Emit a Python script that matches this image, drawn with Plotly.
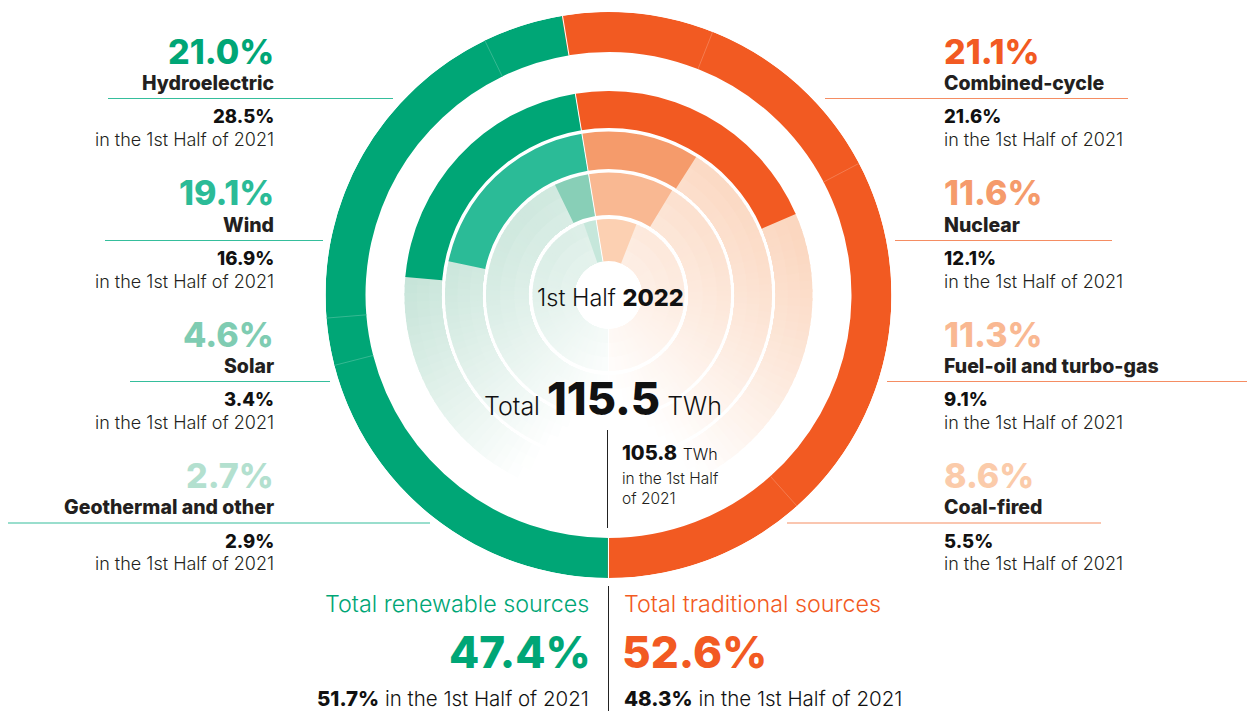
import numpy as np
import plotly.graph_objects as go

# ---------------- data ----------------
renew_names = ["Hydroelectric", "Wind", "Solar", "Geothermal and other"]
renew_2022 = [21.0, 19.1, 4.6, 2.7]
renew_2021 = [28.5, 16.9, 3.4, 2.9]
trad_names = ["Combined-cycle", "Nuclear", "Fuel-oil and turbo-gas", "Coal-fired"]
trad_2022 = [21.1, 11.6, 11.3, 8.6]
trad_2021 = [21.6, 12.1, 9.1, 5.5]
renew_total = [47.4, 51.7]   # 2022, 2021
trad_total = [52.6, 48.3]
total_twh = [115.5, 105.8]
period_now = "1st Half 2022"
period_prev = "in the 1st Half of 2021"

# order of the segments in the outer ring (from the top split outwards)
renew_outer_order = ["Solar", "Wind", "Geothermal and other", "Hydroelectric"]
trad_outer_order = ["Coal-fired", "Fuel-oil and turbo-gas", "Combined-cycle", "Nuclear"]

# ---------------- style ----------------
W, H = 1252, 711
CX, CY, R = 608.5, 295.0, 283.0
renew_colors = ["#00A676", "#2BBB97", "#88CFB7", "#C6E7DB"]
trad_colors = ["#F25A22", "#F59B6B", "#F9B892", "#FCD0B2"]
renew_label_colors = ["#00A676", "#2BBB97", "#7FCCB2", "#B3E0CF"]
trad_label_colors = ["#F25A22", "#F59B6B", "#F9B892", "#FBCBAA"]
GREEN, ORANGE = "#00A676", "#F25A22"
GREEN_LINE, ORANGE_LINE = "#35BE9C", "#F58D63"
DARK = "#231F20"
FONT = "Inter"
rings = [(167, 204), (126, 163.5), (80, 122.5), (34, 76)]
outer_ring = (243, 283)
DEG = 3.6
split = renew_total[0] * DEG - 180.0  # top boundary between renewable and traditional

fig = go.Figure()

# ---------- faded background (diagonal gradient) ----------
def fade(r, th, side):
    a = np.radians(th)
    dx, dy = r * np.sin(a), -r * np.cos(a)
    if side == "t":
        p = (dx - dy) / np.sqrt(2)
        tint = (251, 215, 192)
    else:
        p = (-dx - dy) / np.sqrt(2)
        tint = (192, 225, 212)
    al = float(np.clip((p + 65) / 240.0, 0, 1))
    c = [round(255 * (1 - al) + t * al) for t in tint]
    return al, "rgb(%d,%d,%d)" % tuple(c)

fr, fb, ft, fw, fc = [], [], [], [], []
step, ov, nb = 2.5, 0.8, 3
for i, (r0, r1) in enumerate(rings):
    for side, vals in (("t", trad_2022), ("r", renew_2022)):
        sign = 1 if side == "t" else -1
        start = split + sign * vals[i] * DEG
        end = 180.0 * sign
        n = int(np.ceil(abs(end - start) / step))
        edges = np.linspace(start, end, n + 1)
        bands = np.linspace(r0, r1, nb + 1)
        for b in range(nb - 1, -1, -1):
            rm = 0.5 * (bands[b] + bands[b + 1])
            for k in range(n):
                tm = 0.5 * (edges[k] + edges[k + 1])
                al, col = fade(rm, tm, side)
                if al <= 0.005:
                    continue
                wdt = abs(edges[k + 1] - edges[k]) + ov
                fr.append(bands[b + 1] - r0)
                fb.append(r0)
                ft.append(tm)
                fw.append(wdt)
                fc.append(col)

fig.add_trace(go.Barpolar(r=fr, base=fb, theta=ft, width=fw,
                          marker=dict(color=fc, line=dict(width=0)),
                          hoverinfo="skip", showlegend=False))

# ---------- inner arcs ----------
ar, ab, at, aw, ac = [], [], [], [], []
for i, (r0, r1) in enumerate(rings):
    for side, vals, cols in (("t", trad_2022, trad_colors), ("r", renew_2022, renew_colors)):
        sign = 1 if side == "t" else -1
        span = vals[i] * DEG
        ar.append(r1 - r0)
        ab.append(r0)
        at.append(split + sign * span / 2)
        aw.append(span)
        ac.append(cols[i])
fig.add_trace(go.Barpolar(r=ar, base=ab, theta=at, width=aw,
                          marker=dict(color=ac, line=dict(width=0)),
                          hoverinfo="skip", showlegend=False))

# ---------- outer ring ----------
o0, o1 = outer_ring
orr, ob, ot, ow, oc = [], [], [], [], []
seps = []
for name_list, names, vals, sign, col in (
        (renew_outer_order, renew_names, renew_2022, -1, GREEN),
        (trad_outer_order, trad_names, trad_2022, 1, ORANGE)):
    pos = split
    for nm in name_list:
        span = vals[names.index(nm)] * DEG
        orr.append(o1 - o0); ob.append(o0); ot.append(pos + sign * span / 2)
        ow.append(span + 0.3); oc.append(col)
        pos = pos + sign * span
        seps.append(pos)
fig.add_trace(go.Barpolar(r=orr, base=ob, theta=ot, width=ow,
                          marker=dict(color=oc, line=dict(width=0)),
                          hoverinfo="skip", showlegend=False))
for s in seps:
    if abs(abs(s) - 180) < 0.5:
        continue
    fig.add_trace(go.Scatterpolar(r=[o0, o1], theta=[s, s], mode="lines",
                                  line=dict(color="rgba(255,255,255,0.3)", width=0.7),
                                  hoverinfo="skip", showlegend=False))
# renewable / traditional split lines (top and bottom)
for s in (split, 180.0):
    fig.add_trace(go.Scatterpolar(r=[rings[-1][0], o1], theta=[s, s], mode="lines",
                                  line=dict(color="white", width=1),
                                  hoverinfo="skip", showlegend=False))

fig.update_layout(
    width=W, height=H,
    margin=dict(l=0, r=0, t=0, b=0),
    paper_bgcolor="white", plot_bgcolor="white",
    polar=dict(
        domain=dict(x=[(CX - R) / W, (CX + R) / W], y=[1 - (CY + R) / H, 1 - (CY - R) / H]),
        bgcolor="rgba(0,0,0,0)",
        barmode="overlay",
        hole=0,
        radialaxis=dict(range=[0, R], visible=False, showgrid=False),
        angularaxis=dict(rotation=90, direction="clockwise", visible=False,
                         showgrid=False, showline=False),
    ),
)

def px(x):
    return x / W

def py(y):
    return 1 - y / H

ann = []
def text(x, y, s, size, color=DARK, weight=400, anchor="left"):
    # compensate the annotation's inner padding so the ink edge sits at x
    pad = 3 if size < 40 else 5
    xx = x + pad if anchor == "right" else (x - pad if anchor == "left" else x)
    ann.append(dict(x=px(xx), y=py(y), xref="paper", yref="paper", text=s,
                    showarrow=False, xanchor=anchor, yanchor="middle",
                    font=dict(family=FONT, size=size, color=color, weight=weight)))

shapes = []
def hline(x0, x1, y, color, w=1.2):
    shapes.append(dict(type="line", xref="paper", yref="paper", x0=px(x0), x1=px(x1),
                       y0=py(y), y1=py(y), line=dict(color=color, width=w)))

def vline(x, y0, y1, color="#222", w=1):
    shapes.append(dict(type="line", xref="paper", yref="paper", x0=px(x), x1=px(x),
                       y0=py(y0), y1=py(y1), line=dict(color=color, width=w)))

# side labels
group_y = [51, 193, 334, 475.5]
left_lines = [(108, 393), (105, 323), (130, 330), (8, 430)]
right_lines = [(825, 1128), (895, 1112), (887, 1247), (787, 1101)]
for i in range(4):
    gy = group_y[i]
    # renewable (left)
    text(273, gy, "%.1f%%" % renew_2022[i], 34, renew_label_colors[i], 800, "right")
    text(273, gy + 31.5, renew_names[i], 19.5, DARK, 800, "right")
    hline(left_lines[i][0], left_lines[i][1], gy + 47.5, GREEN_LINE)
    text(273, gy + 65, "%.1f%%" % renew_2021[i], 18.5, "#111", 800, "right")
    text(273, gy + 88, period_prev, 18, DARK, 300, "right")
    # traditional (right)
    text(945, gy, "%.1f%%" % trad_2022[i], 34, trad_label_colors[i], 800, "left")
    text(945, gy + 31.5, trad_names[i], 19.5, DARK, 800, "left")
    hline(right_lines[i][0], right_lines[i][1], gy + 47.5, ORANGE_LINE)
    text(945, gy + 65, "%.1f%%" % trad_2021[i], 18.5, "#111", 800, "left")
    text(945, gy + 88, period_prev, 18, DARK, 300, "left")

# centre
p1, p2 = period_now.rsplit(" ", 1)
text(610.5, 297, '%s <span style="font-weight:800">%s</span>' % (p1, p2), 23.5, "#111", 300, "center")
text(603, 398, 'Total <span style="font-size:45px;font-weight:800">%.1f</span> TWh' % total_twh[0],
     25, "#111", 300, "center")
vline(607.5, 430, 528)
text(623, 453, '<span style="font-weight:800">%.1f</span> <span style="font-size:16px">TWh</span>' % total_twh[1],
     20, "#111", 300, "left")
text(623, 478, "in the 1st Half", 15.5, DARK, 300, "left")
text(623, 498, "of 2021", 15.5, DARK, 300, "left")

# bottom totals
vline(608.5, 586, 711)
text(588, 603, "Total renewable sources", 23.3, GREEN, 300, "right")
text(588, 652, "%.1f%%" % renew_total[0], 44, GREEN, 800, "right")
text(588, 698, '<span style="font-weight:800">%.1f%%</span> %s' % (renew_total[1], period_prev),
     20.5, "#111", 300, "right")
text(625, 603, "Total traditional sources", 23.3, ORANGE, 300, "left")
text(625, 652, "%.1f%%" % trad_total[0], 44, ORANGE, 800, "left")
text(625, 698, '<span style="font-weight:800">%.1f%%</span> %s' % (trad_total[1], period_prev),
     20.5, "#111", 300, "left")

fig.update_layout(annotations=ann, shapes=shapes)
fig.write_html("out.html", config={"displayModeBar": False},
               post_script="document.body.style.margin='0';document.body.style.overflow='hidden';")
